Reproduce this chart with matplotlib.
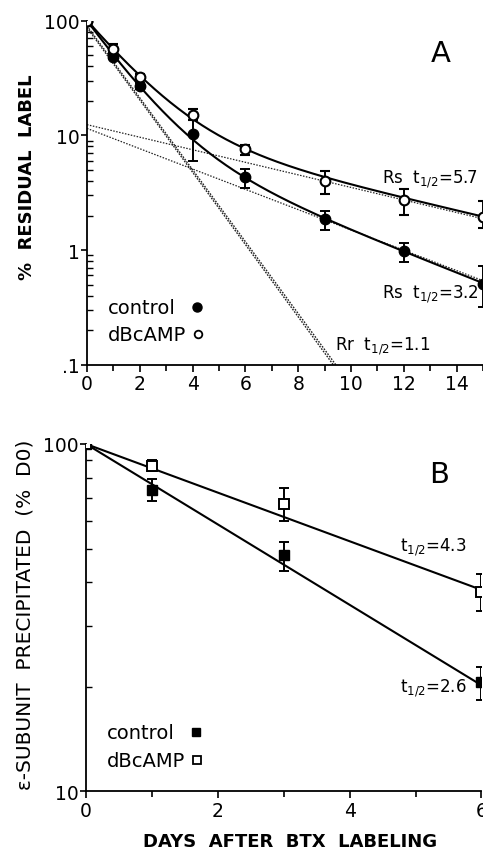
import numpy as np
import matplotlib
matplotlib.use("Agg")
import matplotlib.pyplot as plt
from matplotlib.lines import Line2D
from matplotlib.legend import Legend
from matplotlib.ticker import FixedLocator, FixedFormatter, LogLocator, NullFormatter

plt.rcParams['font.family'] = ['DejaVu Sans']
plt.rcParams['mathtext.fontset'] = 'custom'
plt.rcParams['mathtext.rm'] = 'DejaVu Sans'
plt.rcParams['mathtext.default'] = 'regular'

# ---------------- Panel A data ----------------
daysA = [0, 1, 2, 4, 6, 9, 12, 15]
ctrlA = [100, 48, 27, 10.3, 4.35, 1.86, 0.98, 0.506]
ctrlA_hi = [100, 51, 28.5, 13.5, 5.1, 2.2, 1.16, 0.72]
ctrlA_lo = [100, 46, 25.5, 6.0, 3.45, 1.49, 0.78, 0.32]
dbcA = [100, 56.7, 32.6, 15.1, 7.55, 4.0, 2.72, 1.95]
dbcA_hi = [100, 62.7, 34.0, 17.0, 8.3, 4.9, 3.39, 2.7]
dbcA_lo = [100, 52.0, 31.0, 13.5, 6.8, 3.1, 2.04, 1.55]

# fitted two-component curves: (Rs amplitude, Rs t1/2, Rr amplitude, Rr t1/2)
fit_ctrlA = (12.0, 3.3, 88.0, 0.90)
fit_dbcA = (12.5, 5.6, 88.0, 1.05)
# dashed component lines: (intercept, t1/2)
rs_lines = [(11.5, 3.4), (12.4, 5.5)]
rr_lines = [(90.0, 0.96), (87.0, 0.955)]

# ---------------- Panel B data ----------------
daysB = [0, 1, 3, 6]
ctrlB = [100, 73.9, 47.9, 20.6]
ctrlB_hi = [100, 79.3, 52.3, 22.8]
ctrlB_lo = [100, 68.7, 43.2, 18.3]
dbcB = [100, 86.6, 67.2, 37.6]
dbcB_hi = [100, 90.0, 74.5, 42.2]
dbcB_lo = [100, 83.8, 60.1, 33.1]
thalf_B = {'control': 2.6, 'dBcAMP': 4.3}

W, H = 483, 853
fig = plt.figure(figsize=(W / 100, H / 100), dpi=100)

def style_axes(ax):
    ax.spines['top'].set_visible(False)
    ax.spines['right'].set_visible(False)
    for s in ('left', 'bottom'):
        ax.spines[s].set_linewidth(1.3)
    ax.tick_params(axis='x', which='major', direction='out', length=5, width=1.2,
                   labelsize=13.5, pad=2)
    ax.tick_params(axis='x', which='minor', direction='out', length=4, width=1.2)
    ax.tick_params(axis='y', which='major', direction='out', length=4, width=1.2,
                   labelsize=13.5, pad=1)
    ax.tick_params(axis='y', which='minor', direction='in', length=4, width=1.0)

def decay(t, a, th):
    return a * 2.0 ** (-np.asarray(t) / th)

def err(v, hi, lo):
    v = np.array(v); return np.vstack([v - np.array(lo), np.array(hi) - v])

def key_legend(ax, handle, label, anchor, pad):
    leg = Legend(ax, [handle], [label], markerfirst=False, frameon=False,
                 loc='center left', bbox_to_anchor=anchor, borderpad=0,
                 borderaxespad=0, handlelength=0.7, handletextpad=pad, fontsize=14)
    ax.add_artist(leg)

# ---------------- Panel A ----------------
axA = fig.add_axes([87 / W, 1 - 365.7 / H, (W - 87) / W, 344 / H])
axA.set_yscale('log')
axA.set_xlim(0, 15)
axA.set_ylim(0.1, 100)
style_axes(axA)
axA.xaxis.set_major_locator(FixedLocator(range(0, 15, 2)))
axA.xaxis.set_minor_locator(FixedLocator(range(1, 16, 2)))
axA.yaxis.set_major_locator(FixedLocator([0.1, 1, 10, 100]))
axA.yaxis.set_major_formatter(FixedFormatter(['.1', '1', '10', '100']))
axA.yaxis.set_minor_locator(LogLocator(base=10, subs=np.arange(2, 10)))
axA.yaxis.set_minor_formatter(NullFormatter())

tt = np.linspace(0, 15, 300)
for a, th in rs_lines:
    axA.plot(tt, decay(tt, a, th), ls=(0, (1.2, 1.2)), color='#222', lw=0.9)
for a, th in rr_lines:
    axA.plot(tt, decay(tt, a, th), ls=(0, (1.2, 1.0)), color='#222', lw=1.0)
for fit in (fit_ctrlA, fit_dbcA):
    axA.plot(tt, decay(tt, fit[0], fit[1]) + decay(tt, fit[2], fit[3]), color='black', lw=1.5)

axA.errorbar(daysA, ctrlA, yerr=err(ctrlA, ctrlA_hi, ctrlA_lo), fmt='o', ms=7.5,
             mfc='black', mec='black', ecolor='black', elinewidth=1.4, capsize=3.5,
             capthick=1.4, zorder=5)
axA.errorbar(daysA, dbcA, yerr=err(dbcA, dbcA_hi, dbcA_lo), fmt='o', ms=7,
             mfc='white', mec='black', mew=1.5, ecolor='black', elinewidth=1.4,
             capsize=3.5, capthick=1.4, zorder=6)

axA.text(13.4, 52, 'A', fontsize=21, ha='center', va='center')
axA.text(14.8, 4.2, r'Rs  t$_{1/2}$=5.7', fontsize=12, ha='right', va='center')
axA.text(14.8, 0.42, r'Rs  t$_{1/2}$=3.2', fontsize=12, ha='right', va='center')
axA.text(9.4, 0.147, r'Rr  t$_{1/2}$=1.1', fontsize=12, ha='left', va='center')

key_legend(axA, Line2D([], [], ls='none', marker='o', ms=6.5, mfc='black', mec='black'),
           'control', (0.053, 1 - (309 - 21.7) / 344), 0.75)
key_legend(axA, Line2D([], [], ls='none', marker='o', ms=5.5, mfc='white', mec='black', mew=1.3),
           'dBcAMP', (0.053, 1 - (336 - 21.7) / 344), 0.25)

fig.text(27 / W, 1 - 177 / H, '%  RESIDUAL  LABEL', rotation=90, fontsize=13,
         fontweight='bold', ha='center', va='center')

# ---------------- Panel B ----------------
axB = fig.add_axes([86 / W, 1 - 792.3 / H, (481.5 - 86) / W, 347.3 / H])
axB.set_yscale('log')
axB.set_xlim(0, 6)
axB.set_ylim(10, 100)
style_axes(axB)
axB.xaxis.set_major_locator(FixedLocator([0, 2, 4, 6]))
axB.xaxis.set_minor_locator(FixedLocator([1, 3, 5]))
axB.yaxis.set_major_locator(FixedLocator([10, 100]))
axB.yaxis.set_major_formatter(FixedFormatter(['10', '100']))
axB.yaxis.set_minor_locator(LogLocator(base=10, subs=np.arange(2, 10)))
axB.yaxis.set_minor_formatter(NullFormatter())

tb = np.linspace(0, 6, 100)
for key in ('control', 'dBcAMP'):
    axB.plot(tb, decay(tb, 100, thalf_B[key]), color='black', lw=1.5)

axB.errorbar(daysB, ctrlB, yerr=err(ctrlB, ctrlB_hi, ctrlB_lo), fmt='s', ms=7,
             mfc='black', mec='black', ecolor='black', elinewidth=1.4, capsize=3.5,
             capthick=1.4, zorder=5)
axB.errorbar(daysB, dbcB, yerr=err(dbcB, dbcB_hi, dbcB_lo), fmt='s', ms=7,
             mfc='white', mec='black', mew=1.4, ecolor='black', elinewidth=1.4,
             capsize=3.5, capthick=1.4, zorder=6)

axB.text(5.36, 82, 'B', fontsize=21, ha='center', va='center')
axB.text(5.77, 50.8, r't$_{1/2}$=4.3', fontsize=12, ha='right', va='center')
axB.text(5.77, 20.0, r't$_{1/2}$=2.6', fontsize=12, ha='right', va='center')

key_legend(axB, Line2D([], [], ls='none', marker='s', ms=6, mfc='black', mec='black'),
           'control', (0.053, 1 - (734 - 445) / 347.3), 0.75)
key_legend(axB, Line2D([], [], ls='none', marker='s', ms=6, mfc='white', mec='black', mew=1.3),
           'dBcAMP', (0.053, 1 - (762 - 445) / 347.3), 0.25)

fig.text(25 / W, 1 - 615 / H, 'ε-SUBUNIT  PRECIPITATED  (%  D0)', rotation=90,
         fontsize=14.5, ha='center', va='center')
fig.text(290 / W, 1 - 842 / H, 'DAYS  AFTER  BTX  LABELING', fontsize=13,
         fontweight='bold', ha='center', va='center')

fig.savefig('out.png', dpi=100)
